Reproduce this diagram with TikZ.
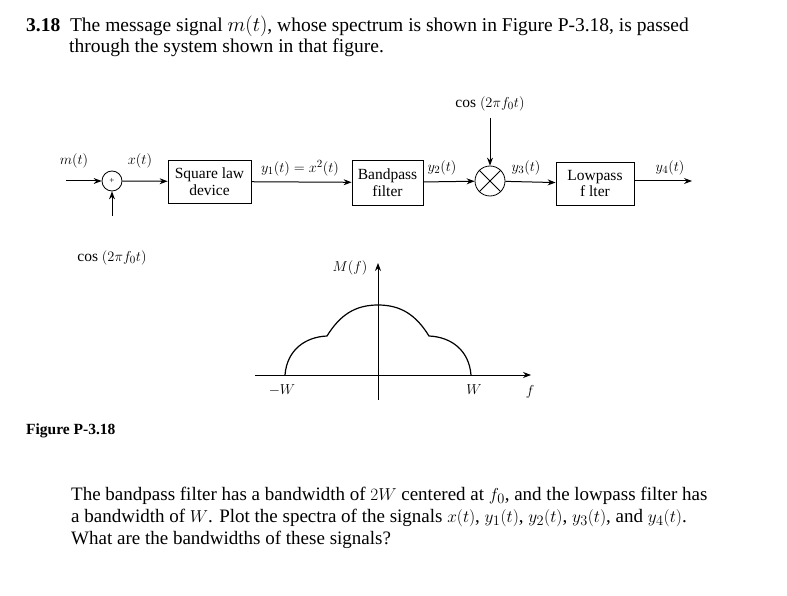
\documentclass[tikz,border=0pt]{standalone}
\usepackage{fontspec}
\setmainfont{Liberation Serif}
\usetikzlibrary{arrows.meta}
\begin{document}
\begin{tikzpicture}[x=1pt,y=-1pt,font=\fontsize{19.5}{22}\selectfont,
  blk/.style={draw,line width=0.8pt,align=center,inner sep=0pt,font=\fontsize{15.5}{16.5}\selectfont},
  sig/.style={line width=1pt,-{Stealth[length=8pt,width=6pt]}},
  lbl/.style={inner sep=1pt,font=\fontsize{15.5}{16.5}\selectfont}]
\useasboundingbox (0,0) rectangle (787,596);
\node[anchor=west,inner sep=1pt] (title) at (25,26) {\textbf{3.18}\ \ The message signal $m(t)$, whose spectrum is shown in Figure P-3.18, is passed};
\node[anchor=west,inner sep=1pt] (title2) at (68,48) {through the system shown in that figure.};
% adder
\node[draw,circle,minimum size=20pt,inner sep=0pt,line width=0.8pt,font=\small] (add) at (112,181) {+};
\coordinate (min) at (66,181);
\node[lbl] (ml) at (74,161) {$m(t)$};
\draw[sig] (min) -- (add);
\coordinate (cin) at (112,216);
\draw[sig] (cin) -- (add);
\node[lbl] (c1) at (112,258) {cos $(2\pi f_0t)$};
\node[lbl] (xl) at (140,161) {$x(t)$};
\node[blk,minimum width=83pt,minimum height=43pt] (sq) at (209.5,181.5) {Square law\\device};
\draw[sig] (add) -- (sq);
\node[blk,minimum width=71pt,minimum height=45pt] (bp) at (387.5,182.5) {Bandpass\\filter};
\draw[sig] (sq) -- (bp);
\node[lbl] (y1l) at (300,168) {$y_1(t)=x^2(t)$};
\node[draw,circle,minimum size=30pt,inner sep=0pt,line width=0.8pt] (mul) at (490,181) {};
\draw[line width=0.8pt] (mul.north west) -- (mul.south east) (mul.north east) -- (mul.south west);
\draw[sig] (bp) -- (mul);
\node[lbl] (y2l) at (442,168) {$y_2(t)$};
\node[lbl] (c2) at (490,104) {cos $(2\pi f_0t)$};
\coordinate (ctop) at (490,118);
\draw[sig] (ctop) -- (mul);
\node[blk,minimum width=78pt,minimum height=43pt] (lp) at (595,183.5) {Lowpass\\f lter};
\draw[sig] (mul) -- (lp);
\node[lbl] (y3l) at (526,168) {$y_3(t)$};
\coordinate (out) at (692,181);
\draw[sig] (lp.east |- out) -- (out);
\node[lbl] (y4l) at (670,168) {$y_4(t)$};
% spectrum
\coordinate (hl) at (255,375); \coordinate (hr) at (531,375);
\coordinate (vb) at (378,400); \coordinate (vt) at (378,263);
\draw[sig,line width=0.8pt] (hl) -- (hr);
\draw[sig,line width=0.8pt] (vb) -- (vt);
\node[lbl] (Ml) at (350,268) {$M(f)$};
\draw[line width=1.2pt] (285,375) .. controls (287,350) and (305,337) .. (327,336)
  .. controls (340,315) and (355,305) .. (378,305)
  .. controls (401,305) and (416,315) .. (429,336)
  .. controls (451,337) and (469,350) .. (471,375);
\node[lbl] (mW) at (282,390) {$-W$};
\node[lbl] (pW) at (474,390) {$W$};
\node[lbl] (fl) at (530,392) {$f$};
\node[anchor=west,lbl] (fig) at (25,431) {\textbf{Figure P-3.18}};
\node[anchor=north west,inner sep=1pt,align=left,font=\fontsize{19}{22}\selectfont] (para) at (70,486) {The bandpass filter has a bandwidth of $2W$ centered at $f_0$, and the lowpass filter has\\a bandwidth of $W$. Plot the spectra of the signals $x(t)$, $y_1(t)$, $y_2(t)$, $y_3(t)$, and $y_4(t)$.\\What are the bandwidths of these signals?};
\end{tikzpicture}
\end{document}
